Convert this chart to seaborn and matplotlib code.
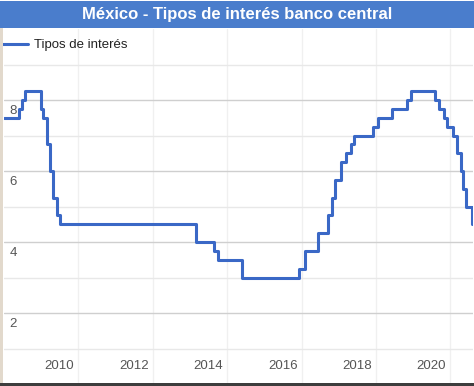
import matplotlib
matplotlib.use("Agg")
import matplotlib.pyplot as plt
import matplotlib.transforms as mtransforms
from matplotlib.patches import Rectangle
import seaborn as sns
import pandas as pd

# ---- data (decimal year, rate %) ----
fechas = [2008.00, 2008.41, 2008.49, 2008.57, 2009.00, 2009.06, 2009.16, 2009.24,
          2009.32, 2009.43, 2009.50, 2013.17, 2013.65, 2013.76, 2014.40, 2015.92,
          2016.10, 2016.45, 2016.72, 2016.82, 2016.90, 2017.06, 2017.20, 2017.33,
          2017.41, 2017.92, 2018.06, 2018.44, 2018.84, 2018.95, 2019.59, 2019.70,
          2019.83, 2019.91, 2020.08, 2020.18, 2020.29, 2020.34, 2020.42, 2020.59,
          2020.70]
tasas = [7.50, 7.75, 8.00, 8.25, 7.75, 7.50, 6.75, 6.00,
         5.25, 4.75, 4.50, 4.00, 3.75, 3.50, 3.00, 3.25,
         3.75, 4.25, 4.75, 5.25, 5.75, 6.25, 6.50, 6.75,
         7.00, 7.25, 7.50, 7.75, 8.00, 8.25, 8.00, 7.75,
         7.50, 7.25, 7.00, 6.50, 6.00, 5.50, 5.00, 4.50,
         4.50]
x_ticks = [2010, 2012, 2014, 2016, 2018, 2020]
y_ticks = [2, 4, 6, 8]
y_minor = [1, 3, 5, 7, 9]
serie = "Tipos de interés"
titulo = "México - Tipos de interés banco central"

df = pd.DataFrame({"fecha": fechas, "tasa": tasas, "serie": serie})

sns.set_style("white")
plt.rcParams["font.family"] = ["Liberation Sans", "DejaVu Sans"]

W, H = 474, 386
fig = plt.figure(figsize=(W / 100, H / 100), dpi=100)
fig.patch.set_facecolor("white")
ax = fig.add_axes([4 / W, 2 / H, 469 / W, 355 / H])

sns.lineplot(data=df, x="fecha", y="tasa", hue="serie", palette=["#3a68c6"],
             drawstyle="steps-post", linewidth=2.2, ax=ax, estimator=None,
             sort=False, zorder=5)

ax.set_xlim(2008.0, 2020.61)
ax.set_ylim(0, 10)
ax.set_xlabel("")
ax.set_ylabel("")
for s in ax.spines.values():
    s.set_visible(False)

ax.set_yticks(y_ticks)
ax.set_yticks(y_minor, minor=True)
ax.set_xticks(x_ticks)
ax.set_xticklabels([str(t) for t in x_ticks])
ax.set_yticklabels([str(t) for t in y_ticks])
ax.grid(True, which="major", axis="y", color="#cfcfcf", linewidth=1.0)
ax.grid(True, which="minor", axis="y", color="#e8e8e8", linewidth=1.0)
ax.grid(True, which="major", axis="x", color="#f0f0f0", linewidth=1.0)
ax.tick_params(axis="both", which="both", length=0)
ax.tick_params(axis="y", pad=-4, labelsize=9.5, labelcolor="#555555")
ax.tick_params(axis="x", pad=-17, labelsize=9.5, labelcolor="#555555")

for lbl in ax.get_yticklabels():
    lbl.set_horizontalalignment("left")
    lbl.set_verticalalignment("top")
    lbl.set_transform(lbl.get_transform() +
                      mtransforms.ScaledTranslation(0, -5 / 100, fig.dpi_scale_trans))
for lbl in ax.get_xticklabels():
    lbl.set_horizontalalignment("right")
    lbl.set_transform(lbl.get_transform() +
                      mtransforms.ScaledTranslation(-4 / 100, 0, fig.dpi_scale_trans))

leg = ax.legend(loc="upper left", bbox_to_anchor=(2 / W, 1 - 39 / H),
                bbox_transform=fig.transFigure, frameon=False, borderpad=0,
                borderaxespad=0, handlelength=2.0, handletextpad=0.45,
                fontsize=9.5, title=None)
for t in leg.get_texts():
    t.set_color("#222222")

# title bar, borders
fig.patches.append(Rectangle((0, 1 - 28 / H), 1, 27 / H, transform=fig.transFigure,
                             facecolor="#4a7dcc", edgecolor="none", zorder=2))
fig.patches.append(Rectangle((0, 2 / H), 3 / W, 1 - 30 / H, transform=fig.transFigure,
                             facecolor="#e2d9cc", edgecolor="none", zorder=2))
fig.patches.append(Rectangle((0, 0), 1, 3 / H, transform=fig.transFigure,
                             facecolor="#3d3d3d", edgecolor="none", zorder=2))
fig.text(237 / W, 1 - 15 / H, titulo, ha="center", va="center", color="white",
         fontsize=12, fontweight="bold", zorder=3)

fig.savefig("out.png", dpi=100)
